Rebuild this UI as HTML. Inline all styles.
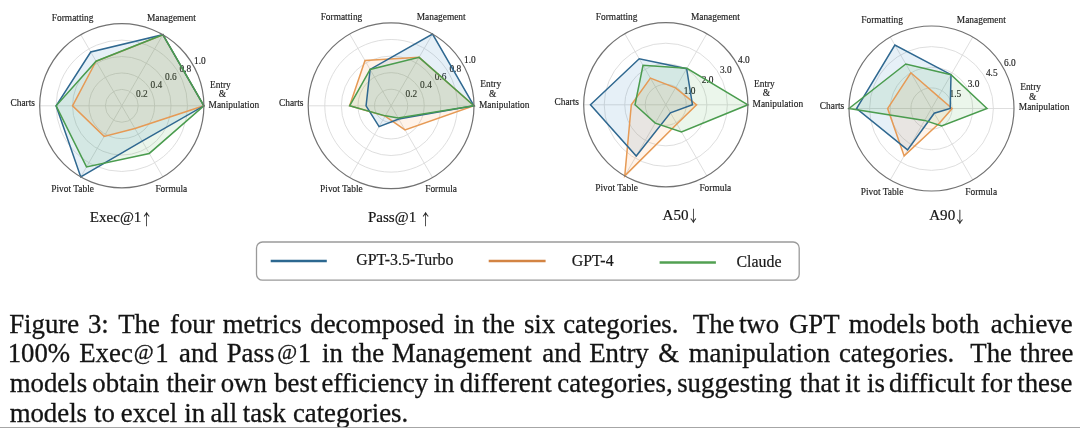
<!DOCTYPE html>
<html><head><meta charset="utf-8"><title>Figure 3</title>
<style>
html,body{margin:0;padding:0;background:#fff;}
body{width:1080px;height:428px;overflow:hidden;position:relative;font-family:"Liberation Serif", "Times New Roman", serif;}
svg{position:absolute;left:0;top:0;filter:blur(0.3px);}
.t{font-family:"Liberation Serif", "Times New Roman", serif;font-size:9.4px;fill:#222;stroke:#222;stroke-width:0.15px;}
.ti{font-family:"Liberation Serif", "Times New Roman", serif;font-size:15.1px;fill:#151515;stroke:#151515;stroke-width:0.2px;}
.ar{font-family:"Noto Serif CJK SC", serif;font-size:15px;fill:#1a1a1a;stroke:#1a1a1a;stroke-width:0.35px;}
.lg{font-family:"Liberation Serif", "Times New Roman", serif;font-size:15.9px;fill:#1a1a1a;stroke:#1a1a1a;stroke-width:0.2px;}
.cap{font-family:"Liberation Serif", "Times New Roman", serif;font-size:26.8px;fill:#141414;stroke:#141414;stroke-width:0.3px;}
.bar{position:absolute;left:0;top:426.7px;width:1080px;height:1.3px;background:#a6a6a6;}
</style></head><body>
<svg width="1080" height="428" viewBox="0 0 1080 428">
<circle cx="121.8" cy="105.8" r="16.42" fill="none" stroke="#dadada" stroke-width="0.9"/>
<circle cx="121.8" cy="105.8" r="32.84" fill="none" stroke="#dadada" stroke-width="0.9"/>
<circle cx="121.8" cy="105.8" r="49.26" fill="none" stroke="#dadada" stroke-width="0.9"/>
<circle cx="121.8" cy="105.8" r="65.68" fill="none" stroke="#dadada" stroke-width="0.9"/>
<line x1="121.8" y1="105.8" x2="203.90" y2="105.80" stroke="#dadada" stroke-width="0.9"/>
<line x1="121.8" y1="105.8" x2="162.85" y2="34.70" stroke="#dadada" stroke-width="0.9"/>
<line x1="121.8" y1="105.8" x2="80.75" y2="34.70" stroke="#dadada" stroke-width="0.9"/>
<line x1="121.8" y1="105.8" x2="39.70" y2="105.80" stroke="#dadada" stroke-width="0.9"/>
<line x1="121.8" y1="105.8" x2="80.75" y2="176.90" stroke="#dadada" stroke-width="0.9"/>
<line x1="121.8" y1="105.8" x2="162.85" y2="176.90" stroke="#dadada" stroke-width="0.9"/>
<text x="141.90" y="96.64" text-anchor="middle" class="t">0.2</text>
<text x="156.40" y="88.38" text-anchor="middle" class="t">0.4</text>
<text x="170.90" y="80.12" text-anchor="middle" class="t">0.6</text>
<text x="185.40" y="71.86" text-anchor="middle" class="t">0.8</text>
<text x="199.90" y="63.60" text-anchor="middle" class="t">1.0</text>
<polygon points="203.90,105.80 162.85,34.70 90.73,51.98 56.12,105.80 80.75,176.90 142.16,141.07" fill="rgba(31,119,180,0.11)" stroke="none"/>
<polygon points="203.90,105.80 162.85,34.70 96.06,61.22 72.54,105.80 104.15,136.37 134.94,128.55" fill="rgba(255,127,14,0.09)" stroke="none"/>
<polygon points="203.90,105.80 162.85,34.70 96.06,61.22 56.12,105.80 86.50,166.95 149.30,153.44" fill="rgba(44,160,44,0.095)" stroke="none"/>
<polygon points="203.90,105.80 162.85,34.70 96.06,61.22 72.54,105.80 104.15,136.37 134.94,128.55" fill="none" stroke="#e69a55" stroke-width="1.5" stroke-linejoin="miter"/>
<polygon points="203.90,105.80 162.85,34.70 90.73,51.98 56.12,105.80 80.75,176.90 142.16,141.07" fill="none" stroke="#2f6890" stroke-width="1.5" stroke-linejoin="miter"/>
<polygon points="203.90,105.80 162.85,34.70 96.06,61.22 56.12,105.80 86.50,166.95 149.30,153.44" fill="none" stroke="#4a9c4e" stroke-width="1.5" stroke-linejoin="miter"/>
<circle cx="121.8" cy="105.8" r="82.1" fill="none" stroke="#727272" stroke-width="1.2"/>
<text x="72.65" y="20.80" text-anchor="middle" class="t">Formatting</text>
<text x="171.40" y="20.80" text-anchor="middle" class="t">Management</text>
<text x="35.00" y="106.30" text-anchor="end" class="t">Charts</text>
<text x="220.40" y="87.60" text-anchor="middle" class="t">Entry</text>
<text x="222.45" y="97.40" text-anchor="middle" class="t">&amp;</text>
<text x="233.85" y="107.70" text-anchor="middle" class="t">Manipulation</text>
<text x="72.60" y="191.60" text-anchor="middle" class="t">Pivot Table</text>
<text x="171.30" y="191.60" text-anchor="middle" class="t">Formula</text>
<circle cx="391.1" cy="105.8" r="16.58" fill="none" stroke="#dadada" stroke-width="0.9"/>
<circle cx="391.1" cy="105.8" r="33.16" fill="none" stroke="#dadada" stroke-width="0.9"/>
<circle cx="391.1" cy="105.8" r="49.74" fill="none" stroke="#dadada" stroke-width="0.9"/>
<circle cx="391.1" cy="105.8" r="66.32" fill="none" stroke="#dadada" stroke-width="0.9"/>
<line x1="391.1" y1="105.8" x2="474.00" y2="105.80" stroke="#dadada" stroke-width="0.9"/>
<line x1="391.1" y1="105.8" x2="432.55" y2="34.01" stroke="#dadada" stroke-width="0.9"/>
<line x1="391.1" y1="105.8" x2="349.65" y2="34.01" stroke="#dadada" stroke-width="0.9"/>
<line x1="391.1" y1="105.8" x2="308.20" y2="105.80" stroke="#dadada" stroke-width="0.9"/>
<line x1="391.1" y1="105.8" x2="349.65" y2="177.59" stroke="#dadada" stroke-width="0.9"/>
<line x1="391.1" y1="105.8" x2="432.55" y2="177.59" stroke="#dadada" stroke-width="0.9"/>
<text x="411.34" y="96.56" text-anchor="middle" class="t">0.2</text>
<text x="425.98" y="88.22" text-anchor="middle" class="t">0.4</text>
<text x="440.62" y="79.88" text-anchor="middle" class="t">0.6</text>
<text x="455.27" y="71.54" text-anchor="middle" class="t">0.8</text>
<text x="469.91" y="63.20" text-anchor="middle" class="t">1.0</text>
<polygon points="474.00,105.80 432.55,34.01 370.13,69.47 366.06,105.80 379.08,126.62 398.77,119.08" fill="rgba(31,119,180,0.11)" stroke="none"/>
<polygon points="474.00,105.80 419.08,57.34 364.99,60.57 349.65,105.80 385.13,116.14 404.99,129.85" fill="rgba(255,127,14,0.09)" stroke="none"/>
<polygon points="474.00,105.80 419.08,57.34 370.13,69.47 349.65,105.80 385.30,115.85 398.15,118.00" fill="rgba(44,160,44,0.095)" stroke="none"/>
<polygon points="474.00,105.80 419.08,57.34 364.99,60.57 349.65,105.80 385.13,116.14 404.99,129.85" fill="none" stroke="#e69a55" stroke-width="1.5" stroke-linejoin="miter"/>
<polygon points="474.00,105.80 432.55,34.01 370.13,69.47 366.06,105.80 379.08,126.62 398.77,119.08" fill="none" stroke="#2f6890" stroke-width="1.5" stroke-linejoin="miter"/>
<polygon points="474.00,105.80 419.08,57.34 370.13,69.47 349.65,105.80 385.30,115.85 398.15,118.00" fill="none" stroke="#4a9c4e" stroke-width="1.5" stroke-linejoin="miter"/>
<circle cx="391.1" cy="105.8" r="82.9" fill="none" stroke="#727272" stroke-width="1.2"/>
<text x="341.47" y="19.97" text-anchor="middle" class="t">Formatting</text>
<text x="441.18" y="19.97" text-anchor="middle" class="t">Management</text>
<text x="303.45" y="106.30" text-anchor="end" class="t">Charts</text>
<text x="490.66" y="87.42" text-anchor="middle" class="t">Entry</text>
<text x="492.73" y="97.32" text-anchor="middle" class="t">&amp;</text>
<text x="504.24" y="107.72" text-anchor="middle" class="t">Manipulation</text>
<text x="341.42" y="192.44" text-anchor="middle" class="t">Pivot Table</text>
<text x="441.08" y="192.44" text-anchor="middle" class="t">Formula</text>
<circle cx="665.8" cy="104.8" r="20.52" fill="none" stroke="#dadada" stroke-width="0.9"/>
<circle cx="665.8" cy="104.8" r="41.05" fill="none" stroke="#dadada" stroke-width="0.9"/>
<circle cx="665.8" cy="104.8" r="61.57" fill="none" stroke="#dadada" stroke-width="0.9"/>
<line x1="665.8" y1="104.8" x2="747.90" y2="104.80" stroke="#dadada" stroke-width="0.9"/>
<line x1="665.8" y1="104.8" x2="706.85" y2="33.70" stroke="#dadada" stroke-width="0.9"/>
<line x1="665.8" y1="104.8" x2="624.75" y2="33.70" stroke="#dadada" stroke-width="0.9"/>
<line x1="665.8" y1="104.8" x2="583.70" y2="104.80" stroke="#dadada" stroke-width="0.9"/>
<line x1="665.8" y1="104.8" x2="624.75" y2="175.90" stroke="#dadada" stroke-width="0.9"/>
<line x1="665.8" y1="104.8" x2="706.85" y2="175.90" stroke="#dadada" stroke-width="0.9"/>
<text x="689.52" y="93.57" text-anchor="middle" class="t">1.0</text>
<text x="707.65" y="83.25" text-anchor="middle" class="t">2.0</text>
<text x="725.77" y="72.92" text-anchor="middle" class="t">3.0</text>
<text x="743.90" y="62.60" text-anchor="middle" class="t">4.0</text>
<polygon points="692.48,104.80 686.63,68.72 639.22,58.76 590.47,104.80 636.24,155.99 670.42,112.80" fill="rgba(31,119,180,0.11)" stroke="none"/>
<polygon points="696.59,104.80 675.55,87.91 650.41,78.14 631.32,104.80 624.75,175.90 676.88,124.00" fill="rgba(255,127,14,0.09)" stroke="none"/>
<polygon points="747.90,104.80 686.84,68.36 643.02,65.34 635.01,104.80 655.23,123.11 681.50,132.00" fill="rgba(44,160,44,0.095)" stroke="none"/>
<polygon points="696.59,104.80 675.55,87.91 650.41,78.14 631.32,104.80 624.75,175.90 676.88,124.00" fill="none" stroke="#e69a55" stroke-width="1.5" stroke-linejoin="miter"/>
<polygon points="692.48,104.80 686.63,68.72 639.22,58.76 590.47,104.80 636.24,155.99 670.42,112.80" fill="none" stroke="#2f6890" stroke-width="1.5" stroke-linejoin="miter"/>
<polygon points="747.90,104.80 686.84,68.36 643.02,65.34 635.01,104.80 655.23,123.11 681.50,132.00" fill="none" stroke="#4a9c4e" stroke-width="1.5" stroke-linejoin="miter"/>
<circle cx="665.8" cy="104.8" r="82.1" fill="none" stroke="#727272" stroke-width="1.2"/>
<text x="616.65" y="19.80" text-anchor="middle" class="t">Formatting</text>
<text x="715.40" y="19.80" text-anchor="middle" class="t">Management</text>
<text x="579.00" y="105.30" text-anchor="end" class="t">Charts</text>
<text x="764.40" y="86.60" text-anchor="middle" class="t">Entry</text>
<text x="766.45" y="96.40" text-anchor="middle" class="t">&amp;</text>
<text x="777.85" y="106.70" text-anchor="middle" class="t">Manipulation</text>
<text x="616.60" y="190.60" text-anchor="middle" class="t">Pivot Table</text>
<text x="715.30" y="190.60" text-anchor="middle" class="t">Formula</text>
<circle cx="931.5" cy="108.5" r="20.62" fill="none" stroke="#dadada" stroke-width="0.9"/>
<circle cx="931.5" cy="108.5" r="41.25" fill="none" stroke="#dadada" stroke-width="0.9"/>
<circle cx="931.5" cy="108.5" r="61.88" fill="none" stroke="#dadada" stroke-width="0.9"/>
<line x1="931.5" y1="108.5" x2="1014.00" y2="108.50" stroke="#dadada" stroke-width="0.9"/>
<line x1="931.5" y1="108.5" x2="972.75" y2="37.05" stroke="#dadada" stroke-width="0.9"/>
<line x1="931.5" y1="108.5" x2="890.25" y2="37.05" stroke="#dadada" stroke-width="0.9"/>
<line x1="931.5" y1="108.5" x2="849.00" y2="108.50" stroke="#dadada" stroke-width="0.9"/>
<line x1="931.5" y1="108.5" x2="890.25" y2="179.95" stroke="#dadada" stroke-width="0.9"/>
<line x1="931.5" y1="108.5" x2="972.75" y2="179.95" stroke="#dadada" stroke-width="0.9"/>
<text x="955.31" y="97.22" text-anchor="middle" class="t">1.5</text>
<text x="973.53" y="86.85" text-anchor="middle" class="t">3.0</text>
<text x="991.74" y="76.47" text-anchor="middle" class="t">4.5</text>
<text x="1009.95" y="66.10" text-anchor="middle" class="t">6.0</text>
<polygon points="950.20,108.50 951.02,74.68 894.86,45.03 856.56,108.50 907.57,149.94 934.25,113.26" fill="rgba(31,119,180,0.11)" stroke="none"/>
<polygon points="952.12,108.50 938.38,96.59 910.88,72.78 887.64,108.50 904.14,155.89 939.75,122.79" fill="rgba(255,127,14,0.09)" stroke="none"/>
<polygon points="987.05,108.50 951.02,74.68 905.79,63.96 849.00,108.50 924.62,120.41 941.61,126.00" fill="rgba(44,160,44,0.095)" stroke="none"/>
<polygon points="952.12,108.50 938.38,96.59 910.88,72.78 887.64,108.50 904.14,155.89 939.75,122.79" fill="none" stroke="#e69a55" stroke-width="1.5" stroke-linejoin="miter"/>
<polygon points="950.20,108.50 951.02,74.68 894.86,45.03 856.56,108.50 907.57,149.94 934.25,113.26" fill="none" stroke="#2f6890" stroke-width="1.5" stroke-linejoin="miter"/>
<polygon points="987.05,108.50 951.02,74.68 905.79,63.96 849.00,108.50 924.62,120.41 941.61,126.00" fill="none" stroke="#4a9c4e" stroke-width="1.5" stroke-linejoin="miter"/>
<circle cx="931.5" cy="108.5" r="82.5" fill="none" stroke="#727272" stroke-width="1.2"/>
<text x="882.11" y="23.09" text-anchor="middle" class="t">Formatting</text>
<text x="981.34" y="23.09" text-anchor="middle" class="t">Management</text>
<text x="844.28" y="109.00" text-anchor="end" class="t">Charts</text>
<text x="1030.58" y="90.21" text-anchor="middle" class="t">Entry</text>
<text x="1032.64" y="100.06" text-anchor="middle" class="t">&amp;</text>
<text x="1044.10" y="110.41" text-anchor="middle" class="t">Manipulation</text>
<text x="882.06" y="194.72" text-anchor="middle" class="t">Pivot Table</text>
<text x="981.24" y="194.72" text-anchor="middle" class="t">Formula</text>
<text x="89.8" y="221.6" class="ti">Exec@1</text>
<text x="0" y="0" transform="translate(141.05,225.3) scale(0.75,1)" class="ar">&#8593;</text>
<text x="367.9" y="221.6" class="ti">Pass@1</text>
<text x="0" y="0" transform="translate(419.95,224.8) scale(0.75,1)" class="ar">&#8593;</text>
<text x="662.6" y="219.7" class="ti">A50</text>
<text x="0" y="0" transform="translate(687.75,221.4) scale(0.75,1)" class="ar">&#8595;</text>
<text x="929.2" y="219.9" class="ti">A90</text>
<text x="0" y="0" transform="translate(954.25,221.7) scale(0.75,1)" class="ar">&#8595;</text>
<rect x="256.5" y="242" width="542.7" height="38.2" rx="6" ry="6" fill="#fff" stroke="#9a9a9a" stroke-width="1.3"/>
<line x1="270.7" y1="261" x2="326.8" y2="261" stroke="#2c6890" stroke-width="2.3"/>
<line x1="488.7" y1="261" x2="545.6" y2="261" stroke="#d38443" stroke-width="2.3"/>
<line x1="659.6" y1="262.5" x2="715.9" y2="262.5" stroke="#52a052" stroke-width="2.3"/>
<text x="356.2" y="264.6" class="lg">GPT-3.5-Turbo</text>
<text x="571.8" y="266.2" class="lg">GPT-4</text>
<text x="736.5" y="267.3" class="lg">Claude</text>
<text class="cap"><tspan x="9.22" y="332.5">Figure</tspan> <tspan x="87.91" y="332.5">3:</tspan> <tspan x="118.22" y="332.5">The</tspan> <tspan x="169.97" y="332.5">four</tspan> <tspan x="222.74" y="332.5">metrics</tspan> <tspan x="310.34" y="332.5">decomposed</tspan> <tspan x="453.64" y="332.5">in</tspan> <tspan x="482.23" y="332.5">the</tspan> <tspan x="523.90" y="332.5">six</tspan> <tspan x="563.18" y="332.5">categories.</tspan> <tspan x="692.82" y="332.5">The</tspan> <tspan x="738.93" y="332.5">two</tspan> <tspan x="788.90" y="332.5">GPT</tspan> <tspan x="848.64" y="332.5">models</tspan> <tspan x="931.70" y="332.5">both</tspan> <tspan x="990.76" y="332.5">achieve</tspan></text>
<text class="cap"><tspan x="7.64" y="362.4">100%</tspan> <tspan x="79.22" y="362.4">Exec</tspan> <tspan x="133.86" y="358.70" font-size="21.6">@</tspan> <tspan x="155.14" y="362.4">1</tspan> <tspan x="179.06" y="362.4">and</tspan> <tspan x="226.72" y="362.4">Pass</tspan> <tspan x="277.16" y="358.70" font-size="21.6">@</tspan> <tspan x="297.64" y="362.4">1</tspan> <tspan x="321.94" y="362.4">in</tspan> <tspan x="351.43" y="362.4">the</tspan> <tspan x="391.72" y="362.4">Management</tspan> <tspan x="542.36" y="362.4">and</tspan> <tspan x="589.22" y="362.4">Entry</tspan> <tspan x="658.18" y="362.4">&amp;</tspan> <tspan x="688.64" y="362.4">manipulation</tspan> <tspan x="838.98" y="362.4">categories.</tspan> <tspan x="970.32" y="362.4">The</tspan> <tspan x="1019.73" y="362.4">three</tspan></text>
<text class="cap"><tspan x="9.74" y="391.7">models</tspan> <tspan x="92.28" y="391.7">obtain</tspan> <tspan x="166.43" y="391.7">their</tspan> <tspan x="220.68" y="391.7">own</tspan> <tspan x="274.20" y="391.7">best</tspan> <tspan x="321.45" y="391.7">efficiency</tspan> <tspan x="433.64" y="391.7">in</tspan> <tspan x="459.84" y="391.7">different</tspan> <tspan x="557.28" y="391.7">categories,</tspan> <tspan x="677.20" y="391.7">suggesting</tspan> <tspan x="799.73" y="391.7">that</tspan> <tspan x="845.24" y="391.7">it</tspan> <tspan x="866.94" y="391.7">is</tspan> <tspan x="889.04" y="391.7">difficult</tspan> <tspan x="980.87" y="391.7">for</tspan> <tspan x="1017.23" y="391.7">these</tspan></text>
<text class="cap"><tspan x="9.64" y="421.6">models</tspan> <tspan x="94.03" y="421.6">to</tspan> <tspan x="120.75" y="421.6">excel</tspan> <tspan x="184.34" y="421.6">in</tspan> <tspan x="210.46" y="421.6">all</tspan> <tspan x="242.73" y="421.6">task</tspan> <tspan x="292.88" y="421.6">categories.</tspan></text>
</svg>
<div class="bar"></div>
</body></html>
